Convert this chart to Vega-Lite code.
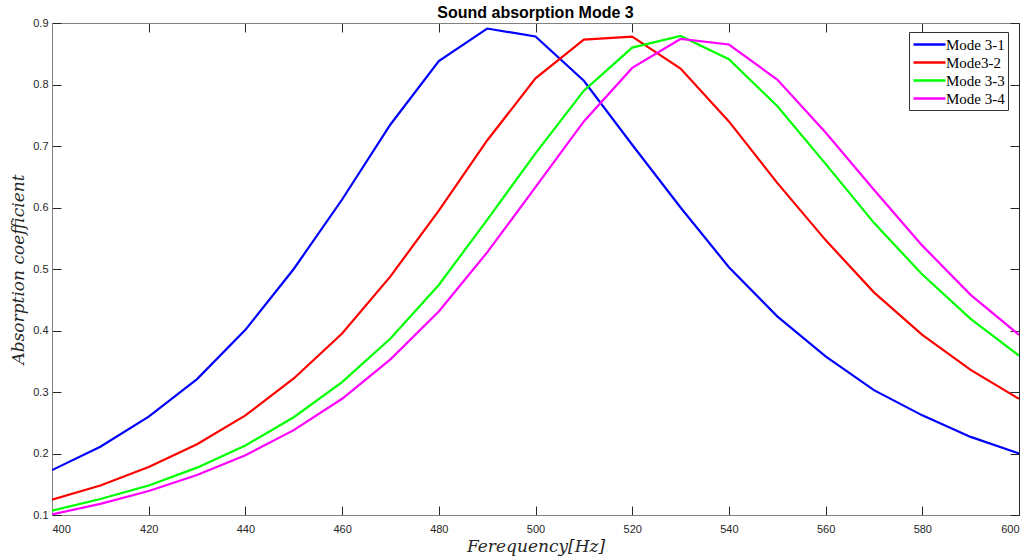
{
  "$schema": "https://vega.github.io/schema/vega-lite/v6.json",
  "width": 967,
  "height": 492,
  "autosize": {"type": "none"},
  "padding": {"left": 52, "top": 23, "right": 10, "bottom": 43},
  "background": "white",
  "title": {"text": "Sound absorption Mode 3", "fontSize": 16, "font": "Liberation Sans", "fontWeight": "bold", "color": "black", "anchor": "middle", "offset": -4},
  "config": {
    "view": {"stroke": null},
    "axis": {"grid": false, "labelFont": "Liberation Sans", "labelFontSize": 11, "labelColor": "#262626", "tickColor": "#262626", "domainColor": "#808080", "domainWidth": 1, "tickWidth": 1}
  },
  "data": {"values": [
    {"f":400,"a":0.173,"s":"Mode 3-1"},{"f":410,"a":0.211,"s":"Mode 3-1"},{"f":420,"a":0.260,"s":"Mode 3-1"},{"f":430,"a":0.321,"s":"Mode 3-1"},{"f":440,"a":0.401,"s":"Mode 3-1"},{"f":450,"a":0.500,"s":"Mode 3-1"},{"f":460,"a":0.613,"s":"Mode 3-1"},{"f":470,"a":0.735,"s":"Mode 3-1"},{"f":480,"a":0.838,"s":"Mode 3-1"},{"f":490,"a":0.891,"s":"Mode 3-1"},{"f":500,"a":0.878,"s":"Mode 3-1"},{"f":510,"a":0.806,"s":"Mode 3-1"},{"f":520,"a":0.702,"s":"Mode 3-1"},{"f":530,"a":0.600,"s":"Mode 3-1"},{"f":540,"a":0.503,"s":"Mode 3-1"},{"f":550,"a":0.423,"s":"Mode 3-1"},{"f":560,"a":0.358,"s":"Mode 3-1"},{"f":570,"a":0.303,"s":"Mode 3-1"},{"f":580,"a":0.262,"s":"Mode 3-1"},{"f":590,"a":0.227,"s":"Mode 3-1"},{"f":600,"a":0.200,"s":"Mode 3-1"},
    {"f":400,"a":0.125,"s":"Mode3-2"},{"f":410,"a":0.148,"s":"Mode3-2"},{"f":420,"a":0.178,"s":"Mode3-2"},{"f":430,"a":0.215,"s":"Mode3-2"},{"f":440,"a":0.262,"s":"Mode3-2"},{"f":450,"a":0.322,"s":"Mode3-2"},{"f":460,"a":0.395,"s":"Mode3-2"},{"f":470,"a":0.488,"s":"Mode3-2"},{"f":480,"a":0.595,"s":"Mode3-2"},{"f":490,"a":0.709,"s":"Mode3-2"},{"f":500,"a":0.810,"s":"Mode3-2"},{"f":510,"a":0.873,"s":"Mode3-2"},{"f":520,"a":0.878,"s":"Mode3-2"},{"f":530,"a":0.826,"s":"Mode3-2"},{"f":540,"a":0.740,"s":"Mode3-2"},{"f":550,"a":0.640,"s":"Mode3-2"},{"f":560,"a":0.547,"s":"Mode3-2"},{"f":570,"a":0.462,"s":"Mode3-2"},{"f":580,"a":0.393,"s":"Mode3-2"},{"f":590,"a":0.336,"s":"Mode3-2"},{"f":600,"a":0.289,"s":"Mode3-2"},
    {"f":400,"a":0.107,"s":"Mode 3-3"},{"f":410,"a":0.126,"s":"Mode 3-3"},{"f":420,"a":0.148,"s":"Mode 3-3"},{"f":430,"a":0.177,"s":"Mode 3-3"},{"f":440,"a":0.213,"s":"Mode 3-3"},{"f":450,"a":0.259,"s":"Mode 3-3"},{"f":460,"a":0.316,"s":"Mode 3-3"},{"f":470,"a":0.387,"s":"Mode 3-3"},{"f":480,"a":0.474,"s":"Mode 3-3"},{"f":490,"a":0.580,"s":"Mode 3-3"},{"f":500,"a":0.688,"s":"Mode 3-3"},{"f":510,"a":0.790,"s":"Mode 3-3"},{"f":520,"a":0.860,"s":"Mode 3-3"},{"f":530,"a":0.879,"s":"Mode 3-3"},{"f":540,"a":0.841,"s":"Mode 3-3"},{"f":550,"a":0.765,"s":"Mode 3-3"},{"f":560,"a":0.671,"s":"Mode 3-3"},{"f":570,"a":0.575,"s":"Mode 3-3"},{"f":580,"a":0.491,"s":"Mode 3-3"},{"f":590,"a":0.419,"s":"Mode 3-3"},{"f":600,"a":0.359,"s":"Mode 3-3"},
    {"f":400,"a":0.101,"s":"Mode 3-4"},{"f":410,"a":0.118,"s":"Mode 3-4"},{"f":420,"a":0.139,"s":"Mode 3-4"},{"f":430,"a":0.165,"s":"Mode 3-4"},{"f":440,"a":0.197,"s":"Mode 3-4"},{"f":450,"a":0.238,"s":"Mode 3-4"},{"f":460,"a":0.289,"s":"Mode 3-4"},{"f":470,"a":0.353,"s":"Mode 3-4"},{"f":480,"a":0.431,"s":"Mode 3-4"},{"f":490,"a":0.527,"s":"Mode 3-4"},{"f":500,"a":0.633,"s":"Mode 3-4"},{"f":510,"a":0.740,"s":"Mode 3-4"},{"f":520,"a":0.827,"s":"Mode 3-4"},{"f":530,"a":0.874,"s":"Mode 3-4"},{"f":540,"a":0.865,"s":"Mode 3-4"},{"f":550,"a":0.808,"s":"Mode 3-4"},{"f":560,"a":0.722,"s":"Mode 3-4"},{"f":570,"a":0.629,"s":"Mode 3-4"},{"f":580,"a":0.538,"s":"Mode 3-4"},{"f":590,"a":0.458,"s":"Mode 3-4"},{"f":600,"a":0.393,"s":"Mode 3-4"}
  ]},
  "layer": [
    {
      "mark": {"type": "line", "strokeWidth": 2.2, "clip": true},
      "encoding": {
        "x": {"field": "f", "type": "quantitative", "scale": {"domain": [400, 600], "nice": false, "zero": false},
              "axis": {"orient": "bottom", "values": [400,420,440,460,480,500,520,540,560,580,600], "tickSize": -9, "labelPadding": 17, "title": "Ferequency[Hz]", "titleFont": "DejaVu Serif", "titleFontStyle": "italic", "titleFontWeight": "normal", "titleFontSize": 17, "titleColor": "#262626", "titlePadding": 4}},
        "y": {"field": "a", "type": "quantitative", "scale": {"domain": [0.1, 0.9], "nice": false, "zero": false},
              "axis": {"orient": "left", "values": [0.1,0.2,0.3,0.4,0.5,0.6,0.7,0.8,0.9], "format": ".1f", "tickSize": -9, "labelPadding": 13, "title": "Absorption coefficient", "titleFont": "DejaVu Serif", "titleFontStyle": "italic", "titleFontWeight": "normal", "titleFontSize": 17, "titleColor": "#262626", "titlePadding": 5}},
        "color": {"field": "s", "type": "nominal",
                  "scale": {"domain": ["Mode 3-1", "Mode3-2", "Mode 3-3", "Mode 3-4"], "range": ["#0000ff", "#ff0000", "#00ff00", "#ff00ff"]},
                  "legend": {"title": null, "orient": "none", "legendX": 857, "legendY": 9, "symbolType": "M-2,0H2", "symbolSize": 256, "symbolStrokeWidth": 2.5, "symbolOffset": 8, "labelFont": "Liberation Serif", "labelFontSize": 15, "labelColor": "black", "labelOffset": 7, "rowPadding": 0, "padding": 3, "strokeColor": "#333333", "fillColor": "white"}}
      }
    },
    {
      "mark": {"type": "line", "opacity": 0},
      "encoding": {
        "x": {"field": "f", "type": "quantitative", "axis": {"orient": "top", "values": [400,420,440,460,480,500,520,540,560,580,600], "labels": false, "tickSize": -9, "title": null}},
        "y": {"field": "a", "type": "quantitative", "axis": {"orient": "right", "values": [0.1,0.2,0.3,0.4,0.5,0.6,0.7,0.8,0.9], "labels": false, "tickSize": -9, "title": null, "domainColor": "#262626"}},
        "detail": {"field": "s"}
      }
    }
  ],
  "resolve": {"axis": {"x": "independent", "y": "independent"}}
}
